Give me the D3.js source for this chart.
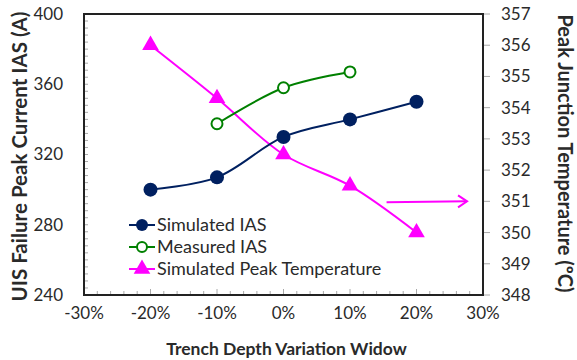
<!DOCTYPE html>
<html>
<head>
<meta charset="utf-8">
<script src="https://cdn.jsdelivr.net/npm/d3@7"></script>
<style>
  body { margin: 0; background: #fff; }
  text { font-family: Lato, "Open Sans", sans-serif; fill: #2a2a2a; }
</style>
</head>
<body>
<div id="chart"></div>
<script>
// data
const depthVar = [-20, -10, 0, 10, 20];           // % trench depth variation
const simIAS = [300, 307, 330, 340, 350];          // A
const measDepth = [-10, 0, 10];
const measIAS = [337.5, 358, 367];                 // A
const simTemp = [356.0, 354.3, 352.5, 351.5, 350.0]; // ºC (right axis)

const xTicks = [-30, -20, -10, 0, 10, 20, 30];
const yLeftTicks = [240, 280, 320, 360, 400];
const yRightTicks = d3.range(348, 358);

const width = 577, height = 360;
const margin = { top: 14, right: 94, bottom: 65, left: 84 };

const navy = "#002060", green = "#008000", magenta = "#ff00ff";

const svg = d3.select("#chart").append("svg")
    .attr("width", width)
    .attr("height", height);

const x = d3.scaleLinear().domain([-30, 30]).range([margin.left, width - margin.right]);
const yL = d3.scaleLinear().domain([240, 400]).range([height - margin.bottom, margin.top]);
const yR = d3.scaleLinear().domain([348, 357]).range([height - margin.bottom, margin.top]);

const x0 = x.range()[0], x1 = x.range()[1];
const yb = yL.range()[0], yt = yL.range()[1];

// minor ticks (inside the box, grey)
const gTicks = svg.append("g").attr("stroke", "#aaa").attr("stroke-width", 1);
gTicks.selectAll(".ml").data(d3.range(240, 401, 4)).join("line")
    .attr("x1", x0).attr("x2", x0 + 4)
    .attr("y1", d => yL(d)).attr("y2", d => yL(d));
gTicks.selectAll(".mb").data(d3.range(-30, 31, 2)).join("line")
    .attr("x1", d => x(d)).attr("x2", d => x(d))
    .attr("y1", yb).attr("y2", d => d % 10 === 0 ? yb - 6 : yb - 4);
// right axis major ticks (outside)
gTicks.selectAll(".mr").data(yRightTicks).join("line")
    .attr("x1", x1).attr("x2", x1 + 7)
    .attr("y1", d => yR(d)).attr("y2", d => yR(d));

// plot frame
svg.append("rect")
    .attr("x", x0).attr("y", yt)
    .attr("width", x1 - x0).attr("height", yb - yt)
    .attr("fill", "none").attr("stroke", "#222").attr("stroke-width", 2);

// tick labels
svg.append("g").selectAll("text").data(yLeftTicks).join("text")
    .attr("x", 63).attr("y", d => yL(d)).attr("dy", "0.35em")
    .attr("text-anchor", "end").attr("font-size", 17).text(d => d);

svg.append("g").selectAll("text").data(yRightTicks).join("text")
    .attr("x", 501).attr("y", d => yR(d)).attr("dy", "0.35em")
    .attr("font-size", 17).text(d => d);

svg.append("g").selectAll("text").data(xTicks).join("text")
    .attr("x", d => x(d)).attr("y", 319)
    .attr("text-anchor", "middle").attr("font-size", 17).text(d => d + "%");

// axis titles
svg.append("text")
    .attr("x", (x0 + x1) / 2 + 3).attr("y", 355)
    .attr("text-anchor", "middle").attr("font-size", 17.5).attr("font-weight", "bold")
    .text("Trench Depth Variation Widow");

svg.append("text")
    .attr("transform", `translate(27,${(yt + yb) / 2 + 2}) rotate(-90)`)
    .attr("text-anchor", "middle").attr("font-size", 20.5).attr("font-weight", "bold")
    .text("UIS Failure Peak Current IAS (A)");

svg.append("text")
    .attr("transform", `translate(558,${(yt + yb) / 2 - 1}) rotate(90)`)
    .attr("text-anchor", "middle").attr("font-size", 20).attr("font-weight", "bold")
    .text("Peak Junction Temperature (ºC)");

// series
const line = d3.line().curve(d3.curveCatmullRom);
const tri = d3.symbol().type(d3.symbolTriangle).size(120);

const simPts = depthVar.map((d, i) => [x(d), yL(simIAS[i])]);
const measPts = measDepth.map((d, i) => [x(d), yL(measIAS[i])]);
const tempPts = depthVar.map((d, i) => [x(d), yR(simTemp[i])]);

svg.append("path").attr("d", line(tempPts))
    .attr("fill", "none").attr("stroke", magenta).attr("stroke-width", 2);
svg.append("path").attr("d", line(measPts))
    .attr("fill", "none").attr("stroke", green).attr("stroke-width", 2);
svg.append("path").attr("d", line(simPts))
    .attr("fill", "none").attr("stroke", navy).attr("stroke-width", 2);

svg.append("g").selectAll("path").data(tempPts).join("path")
    .attr("transform", d => `translate(${d[0]},${d[1]})`)
    .attr("d", tri).attr("fill", magenta);
svg.append("g").selectAll("circle").data(measPts).join("circle")
    .attr("cx", d => d[0]).attr("cy", d => d[1]).attr("r", 5.5)
    .attr("fill", "#fff").attr("stroke", green).attr("stroke-width", 2);
svg.append("g").selectAll("circle").data(simPts).join("circle")
    .attr("cx", d => d[0]).attr("cy", d => d[1]).attr("r", 7)
    .attr("fill", navy);

// arrow pointing at the right axis
const ax0 = x(15.5), ax1 = x(27.6), ay0 = yR(350.97), ay1 = yR(351.0);
svg.append("line").attr("x1", ax0).attr("y1", ay0).attr("x2", ax1).attr("y2", ay1)
    .attr("stroke", magenta).attr("stroke-width", 2);
svg.append("path")
    .attr("d", `M${ax1 - 9},${ay1 - 6} L${ax1},${ay1} L${ax1 - 9},${ay1 + 6}`)
    .attr("fill", "none").attr("stroke", magenta).attr("stroke-width", 2);

// legend
const legend = [
  { name: "Simulated IAS", color: navy, kind: "dot" },
  { name: "Measured IAS", color: green, kind: "open" },
  { name: "Simulated Peak Temperature", color: magenta, kind: "tri" }
];
const lg = svg.append("g").selectAll("g").data(legend).join("g")
    .attr("transform", (d, i) => `translate(129,${225 + i * 22})`);
lg.append("line").attr("x1", 0).attr("x2", 26)
    .attr("stroke", d => d.color).attr("stroke-width", 2);
lg.each(function (d) {
  const g = d3.select(this);
  if (d.kind === "dot") g.append("circle").attr("cx", 13).attr("r", 6).attr("fill", d.color);
  else if (d.kind === "open") g.append("circle").attr("cx", 13).attr("r", 5)
      .attr("fill", "#fff").attr("stroke", d.color).attr("stroke-width", 2);
  else g.append("path").attr("transform", "translate(13,0)").attr("d", tri).attr("fill", d.color);
});
lg.append("text").attr("x", 28).attr("dy", "0.35em").attr("font-size", 18)
    .text(d => d.name);
</script>
</body>
</html>
